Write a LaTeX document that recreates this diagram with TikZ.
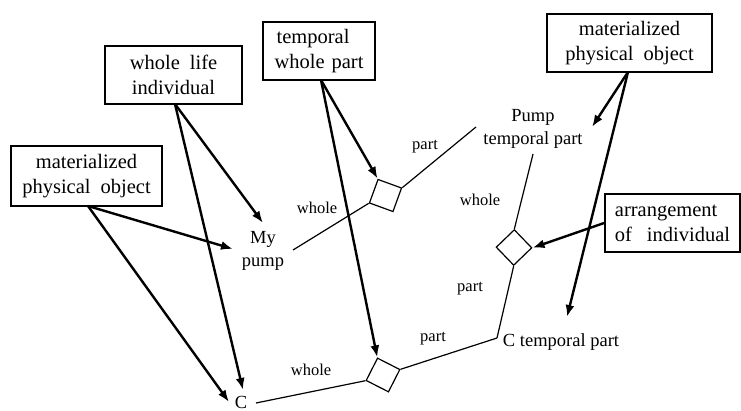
\documentclass[tikz,border=0pt]{standalone}
\usepackage{fontspec}
\setmainfont{Liberation Serif}
\usetikzlibrary{arrows.meta}
\begin{document}
\begin{tikzpicture}[x=1pt,y=-1pt,
  box/.style={draw, line width=1.7pt, minimum height=58pt, inner sep=0pt, align=center, font=\fontsize{20.5}{25}\selectfont},
  lbl/.style={inner sep=0pt, align=center, font=\fontsize{18.5}{23}\selectfont},
  rlbl/.style={inner sep=0pt, font=\fontsize{16.5}{20}\selectfont},
  rel/.style={draw, line width=1.2pt, minimum width=25pt, minimum height=25pt, inner sep=0pt},
  relline/.style={line width=1.2pt},
  arr/.style={line width=2.4pt, -{Latex[length=12pt,width=9pt]}}
]
\useasboundingbox (0,0) rectangle (741,411);

% boxes
\node[box, minimum width=137pt] (wli) at (173.5,75) {whole\hspace{10pt}life\\individual};
\node[box, minimum width=112pt] (twp) at (319,51) {temporal\hspace{12pt}\null\\whole\hspace{7pt}part};
\node[box, minimum width=151pt, minimum height=60pt] (mpoL) at (86.5,176) {materialized\\physical\hspace{10pt}object};
\node[box, minimum width=165pt] (mpoR) at (629.5,43) {materialized\\physical\hspace{10pt}object};
\node[box, minimum width=135pt, align=left] (aoi) at (672.5,223) {arrangement\\of\hspace{15pt}individual};

% text nodes
\node[lbl] (mp) at (263,251) {My\\pump};
\node[lbl] (ptp) at (533,129) {Pump\\temporal part};
\node[lbl] (ctp) at (561,342) {C temporal part};
\node[lbl] (c) at (241,402) {C};

% relation squares
\node[rel, rotate=-20] (d1) at (385.5,195.5) {};
\node[rel, rotate=-46] (d2) at (514,247.5) {};
\node[rel, rotate=-27] (d3) at (383,375) {};

% endpoints
\coordinate (mpE) at (293,250);
\coordinate (ptpW) at (476,127);
\coordinate (ptpS) at (533,154);
\coordinate (ctpW) at (497,338);
\coordinate (cE) at (256,403);

% relation lines
\draw[relline] (mpE) -- (d1.south west);
\draw[relline] (d1.north east) -- (ptpW);
\draw[relline] (ptpS) -- (d2.north west);
\draw[relline] (d2.south east) -- (ctpW);
\draw[relline] (d3.north east) -- (ctpW);
\draw[relline] (d3.south west) -- (cE);

% relation labels
\node[rlbl] (l1) at (425,147) {part};
\node[rlbl] (l2) at (317,208) {whole};
\node[rlbl] (l3) at (480,200) {whole};
\node[rlbl] (l4) at (470,289) {part};
\node[rlbl] (l5) at (433,339) {part};
\node[rlbl] (l6) at (311,370) {whole};

% arrow targets
\coordinate (tMp1) at (263,223);
\coordinate (tMp2) at (233,249);
\coordinate (tC1) at (243,390);
\coordinate (tC2) at (229,402);
\coordinate (tPtp) at (592,127);
\coordinate (tCtp) at (567,317);
\coordinate (sWli) at (175,104);
\coordinate (sTwp) at (321,80);
\coordinate (sMpoL) at (88,206);
\coordinate (sMpoR) at (628,72);

% classification arrows
\draw[arr] (sWli) -- (tMp1);
\draw[arr] (sWli) -- (tC1);
\draw[arr] (sTwp) -- (d1.north west);
\draw[arr] (sTwp) -- (d3.north west);
\draw[arr] (sMpoL) -- (tMp2);
\draw[arr] (sMpoL) -- (tC2);
\draw[arr] (sMpoR) -- (tPtp);
\draw[arr] (sMpoR) -- (tCtp);
\draw[arr] (aoi.west) -- (d2.north east);
\end{tikzpicture}
\end{document}
